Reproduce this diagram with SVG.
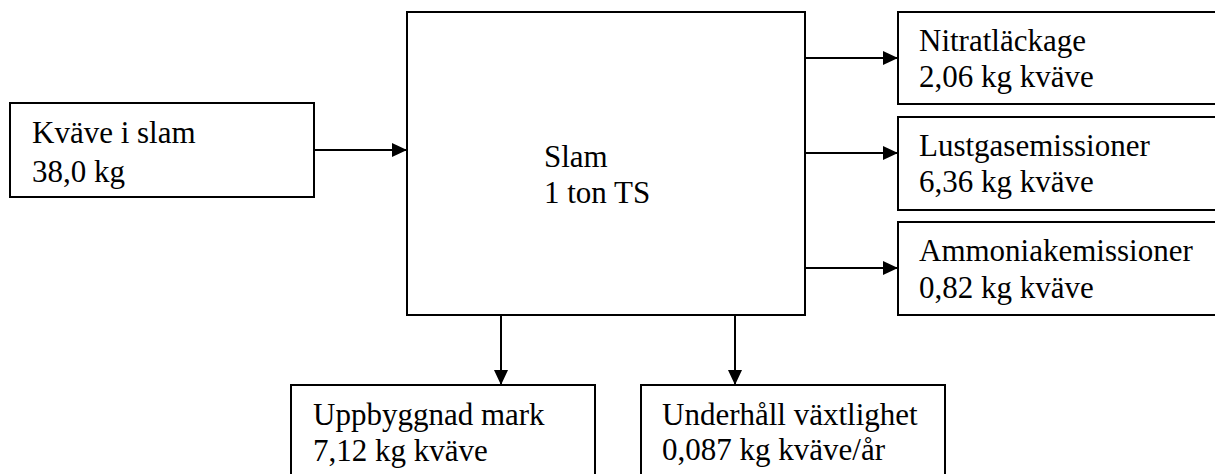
<svg xmlns="http://www.w3.org/2000/svg" width="1215" height="474" viewBox="0 0 1215 474">
<style>
.box{fill:#fff;stroke:#000;stroke-width:2}
.t{font-family:'Liberation Serif','Times New Roman',serif;font-size:31px;fill:#000}
.c{stroke:#000;stroke-width:2;fill:none;marker-end:url(#ah)}
</style>
<defs>
<marker id="ah" markerUnits="userSpaceOnUse" markerWidth="15" markerHeight="14" refX="15" refY="7" orient="auto">
<path d="M0,0 L15,7 L0,14 z" fill="#000"/>
</marker>
</defs>
<g id="connectors">
<line class="c" x1="314" y1="150" x2="407" y2="150"/>
<line class="c" x1="805" y1="58" x2="898" y2="58"/>
<line class="c" x1="805" y1="153" x2="898" y2="153"/>
<line class="c" x1="805" y1="268" x2="898" y2="268"/>
<line class="c" x1="501" y1="315" x2="501" y2="385"/>
<line class="c" x1="735" y1="315" x2="735" y2="385"/>
</g>
<g id="kvave">
<rect class="box" x="10" y="103" width="304" height="94"/>
<text class="t" x="32" y="143">Kväve i slam</text>
<text class="t" x="32" y="182">38,0 kg</text>
</g>
<g id="slam">
<rect class="box" x="407" y="12" width="398" height="303"/>
<text class="t" x="544" y="167">Slam</text>
<text class="t" x="544" y="203">1 ton TS</text>
</g>
<g id="nitrat">
<rect class="box" x="898" y="12" width="330" height="92"/>
<text class="t" x="919" y="51">Nitratläckage</text>
<text class="t" x="919" y="87">2,06 kg kväve</text>
</g>
<g id="lustgas">
<rect class="box" x="898" y="117" width="330" height="93"/>
<text class="t" x="919" y="156">Lustgasemissioner</text>
<text class="t" x="919" y="192">6,36 kg kväve</text>
</g>
<g id="ammoniak">
<rect class="box" x="898" y="222" width="330" height="93"/>
<text class="t" x="919" y="261">Ammoniakemissioner</text>
<text class="t" x="919" y="298">0,82 kg kväve</text>
</g>
<g id="uppbyggnad">
<rect class="box" x="291" y="385" width="304" height="100"/>
<text class="t" x="313" y="425">Uppbyggnad mark</text>
<text class="t" x="313" y="461">7,12 kg kväve</text>
</g>
<g id="underhall">
<rect class="box" x="641" y="385" width="304" height="100"/>
<text class="t" x="662" y="425">Underhåll växtlighet</text>
<text class="t" x="662" y="460">0,087 kg kväve/år</text>
</g>
</svg>
